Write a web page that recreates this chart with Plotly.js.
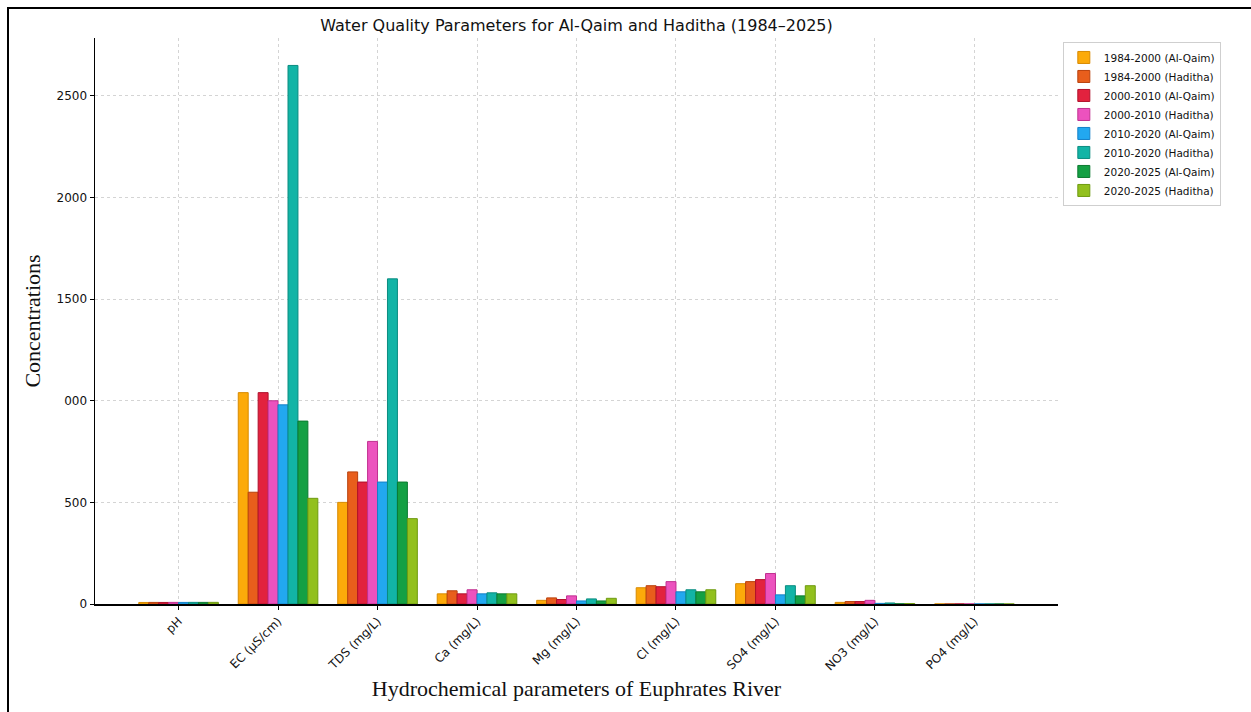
<!DOCTYPE html>
<html>
<head>
<meta charset="utf-8">
<script src="https://cdn.plot.ly/plotly-3.0.1.min.js"></script>
<style>
  html, body { margin: 0; padding: 0; background: #fff; }
  #frame { position: absolute; left: 7px; top: 7px; width: 1244px; height: 705px;
           border-left: 2px solid #000; border-top: 2px solid #000; box-sizing: border-box; }
  #chart { position: absolute; left: 0; top: 0; width: 1251px; height: 712px; }
</style>
</head>
<body>
<div id="frame"></div>
<div id="chart"></div>
<script>
// Hydrochemical parameters (x categories)
const parameters = ["pH", "EC (µS/cm)", "TDS (mg/L)", "Ca (mg/L)", "Mg (mg/L)",
                    "Cl (mg/L)", "SO4 (mg/L)", "NO3 (mg/L)", "PO4 (mg/L)"];

// Mean values per period and station, in parameter order
const qaim_1984_2000    = [7.6, 1040, 500, 50, 18, 80, 100, 8, 0.2];
const haditha_1984_2000 = [7.8, 550, 650, 65, 30, 90, 110, 12, 0.2];
const qaim_2000_2010    = [7.7, 1040, 600, 50, 22, 85, 120, 12, 0.3];
const haditha_2000_2010 = [7.9, 1000, 800, 70, 40, 110, 150, 18, 0.3];
const qaim_2010_2020    = [7.8, 980, 600, 50, 15, 60, 45, 3, 0.2];
const haditha_2010_2020 = [8.0, 2650, 1600, 55, 25, 70, 90, 5, 0.2];
const qaim_2020_2025    = [7.9, 900, 600, 50, 15, 60, 40, 1, 0.1];
const haditha_2020_2025 = [8.1, 520, 420, 50, 28, 70, 90, 2, 0.1];

const seriesNames = ["1984-2000 (Al-Qaim)", "1984-2000 (Haditha)",
                     "2000-2010 (Al-Qaim)", "2000-2010 (Haditha)",
                     "2010-2020 (Al-Qaim)", "2010-2020 (Haditha)",
                     "2020-2025 (Al-Qaim)", "2020-2025 (Haditha)"];
const seriesValues = [qaim_1984_2000, haditha_1984_2000, qaim_2000_2010, haditha_2000_2010,
                      qaim_2010_2020, haditha_2010_2020, qaim_2020_2025, haditha_2020_2025];

// Y tick labels as printed on the axis
const yTickValues = [0, 500, 1000, 1500, 2000, 2500];
const yTickLabels = ["0", "500", "000", "1500", "2000", "2500"];

const fills = ["#FCAA0A", "#E85E1C", "#E2223E", "#EC52BE", "#22A8F0", "#12B4A6", "#14A044", "#92C01E"];
const edges = ["#D88A00", "#B8400C", "#B0102A", "#C03090", "#1480C8", "#0A8C80", "#0C7A30", "#6E9A10"];

const traces = seriesNames.map((name, i) => ({
  type: "bar",
  name: name,
  x: parameters,
  y: seriesValues[i],
  marker: { color: fills[i], line: { color: edges[i], width: 1 } }
}));

const layout = {
  width: 1251, height: 712,
  paper_bgcolor: "rgba(0,0,0,0)",
  plot_bgcolor: "rgba(0,0,0,0)",
  margin: { l: 95, r: 193, t: 38, b: 108 },
  barmode: "group",
  bargap: 0.2,
  bargroupgap: 0,
  font: { family: "DejaVu Sans", color: "#111" },
  title: {
    text: "Water Quality Parameters for Al-Qaim and Haditha (1984–2025)",
    font: { family: "DejaVu Sans", size: 16, color: "#111" },
    x: 0.5, xref: "paper", xanchor: "center",
    y: 0.965, yref: "container", yanchor: "middle"
  },
  xaxis: {
    range: [-0.84, 8.84],
    tickangle: -45,
    tickfont: { family: "DejaVu Sans", size: 12, color: "#111" },
    showline: true, linecolor: "#000", linewidth: 1.5,
    ticks: "outside", ticklen: 4, tickcolor: "#000",
    showgrid: true, gridcolor: "#d4d4d4", griddash: "dot", gridwidth: 1,
    zeroline: false,
    title: {
      text: "Hydrochemical parameters of Euphrates River",
      font: { family: "Liberation Serif", size: 22, color: "#111" },
      standoff: 8
    }
  },
  yaxis: {
    range: [0, 2785],
    tickvals: yTickValues,
    ticktext: yTickLabels,
    tickfont: { family: "DejaVu Sans", size: 12, color: "#111" },
    showline: true, linecolor: "#000", linewidth: 1.5,
    ticks: "outside", ticklen: 4, tickcolor: "#000",
    showgrid: true, gridcolor: "#d4d4d4", griddash: "dot", gridwidth: 1,
    zeroline: false,
    title: {
      text: "Concentrations",
      font: { family: "Liberation Serif", size: 22, color: "#111" },
      standoff: 10
    }
  },
  legend: {
    x: 1.005, xanchor: "left",
    y: 0.993, yanchor: "top",
    bgcolor: "#fff",
    bordercolor: "#cfcfcf", borderwidth: 1,
    font: { family: "DejaVu Sans", size: 10.5, color: "#111" },
    tracegroupgap: 0,
    itemwidth: 30
  },
  showlegend: true
};

Plotly.newPlot("chart", traces, layout, { displayModeBar: false, staticPlot: true });
</script>
</body>
</html>
